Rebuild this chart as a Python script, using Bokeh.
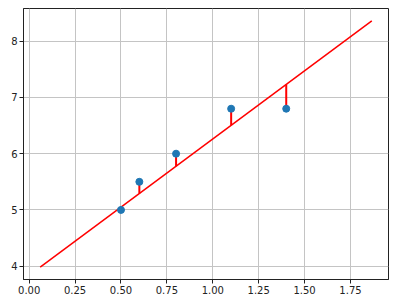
import numpy as np
from bokeh.plotting import figure
from bokeh.models import Range1d, FixedTicker
from bokeh.embed import file_html
from bokeh.resources import INLINE

# data
x_points = [0.5, 0.6, 0.8, 1.1, 1.4]
y_points = [5.0, 5.5, 6.0, 6.8, 6.8]
slope = 2.424
intercept = 3.838
line_x = [0.06, 1.866]
x_ticks = [0.0, 0.25, 0.5, 0.75, 1.0, 1.25, 1.5, 1.75]
x_tick_labels = ["0.00", "0.25", "0.50", "0.75", "1.00", "1.25", "1.50", "1.75"]
y_ticks = [4, 5, 6, 7, 8]

line_y = [intercept + slope * v for v in line_x]
fit_at_points = [intercept + slope * v for v in x_points]

p = figure(width=400, height=304, output_backend="svg", toolbar_location=None,
           x_range=Range1d(-0.031, 1.957), y_range=Range1d(3.763, 8.582),
           min_border_left=23, min_border_right=12, min_border_top=8, min_border_bottom=25)
p.background_fill_color = "white"
p.border_fill_color = "white"
p.outline_line_color = "#222222"
p.outline_line_width = 1

for ax in (p.xaxis[0], p.yaxis[0]):
    ax.axis_line_color = "#222222"
    ax.major_tick_line_color = "#222222"
    ax.major_tick_out = 4
    ax.major_tick_in = 0
    ax.minor_tick_line_color = None
    ax.major_label_text_font = "DejaVu Sans"
    ax.major_label_text_font_size = "10px"
    ax.major_label_text_color = "#222222"
    ax.major_label_standoff = 2
    ax.axis_label_standoff = 0

p.xaxis.ticker = FixedTicker(ticks=x_ticks)
p.xaxis.major_label_overrides = {t: l for t, l in zip(x_ticks, x_tick_labels)}
p.yaxis.ticker = FixedTicker(ticks=y_ticks)

p.xgrid.ticker = FixedTicker(ticks=x_ticks)
p.ygrid.ticker = FixedTicker(ticks=y_ticks)
for g in (p.xgrid[0], p.ygrid[0]):
    g.grid_line_color = "#c4c4c4"
    g.grid_line_width = 1

p.line(line_x, line_y, line_color="red", line_width=1.5)
p.segment(x0=x_points, y0=y_points, x1=x_points, y1=fit_at_points,
          line_color="red", line_width=2)
p.scatter(x_points, y_points, size=7, fill_color="#1f77b4", line_color="#1f77b4")

open("out.html", "w").write(file_html(p, INLINE))
